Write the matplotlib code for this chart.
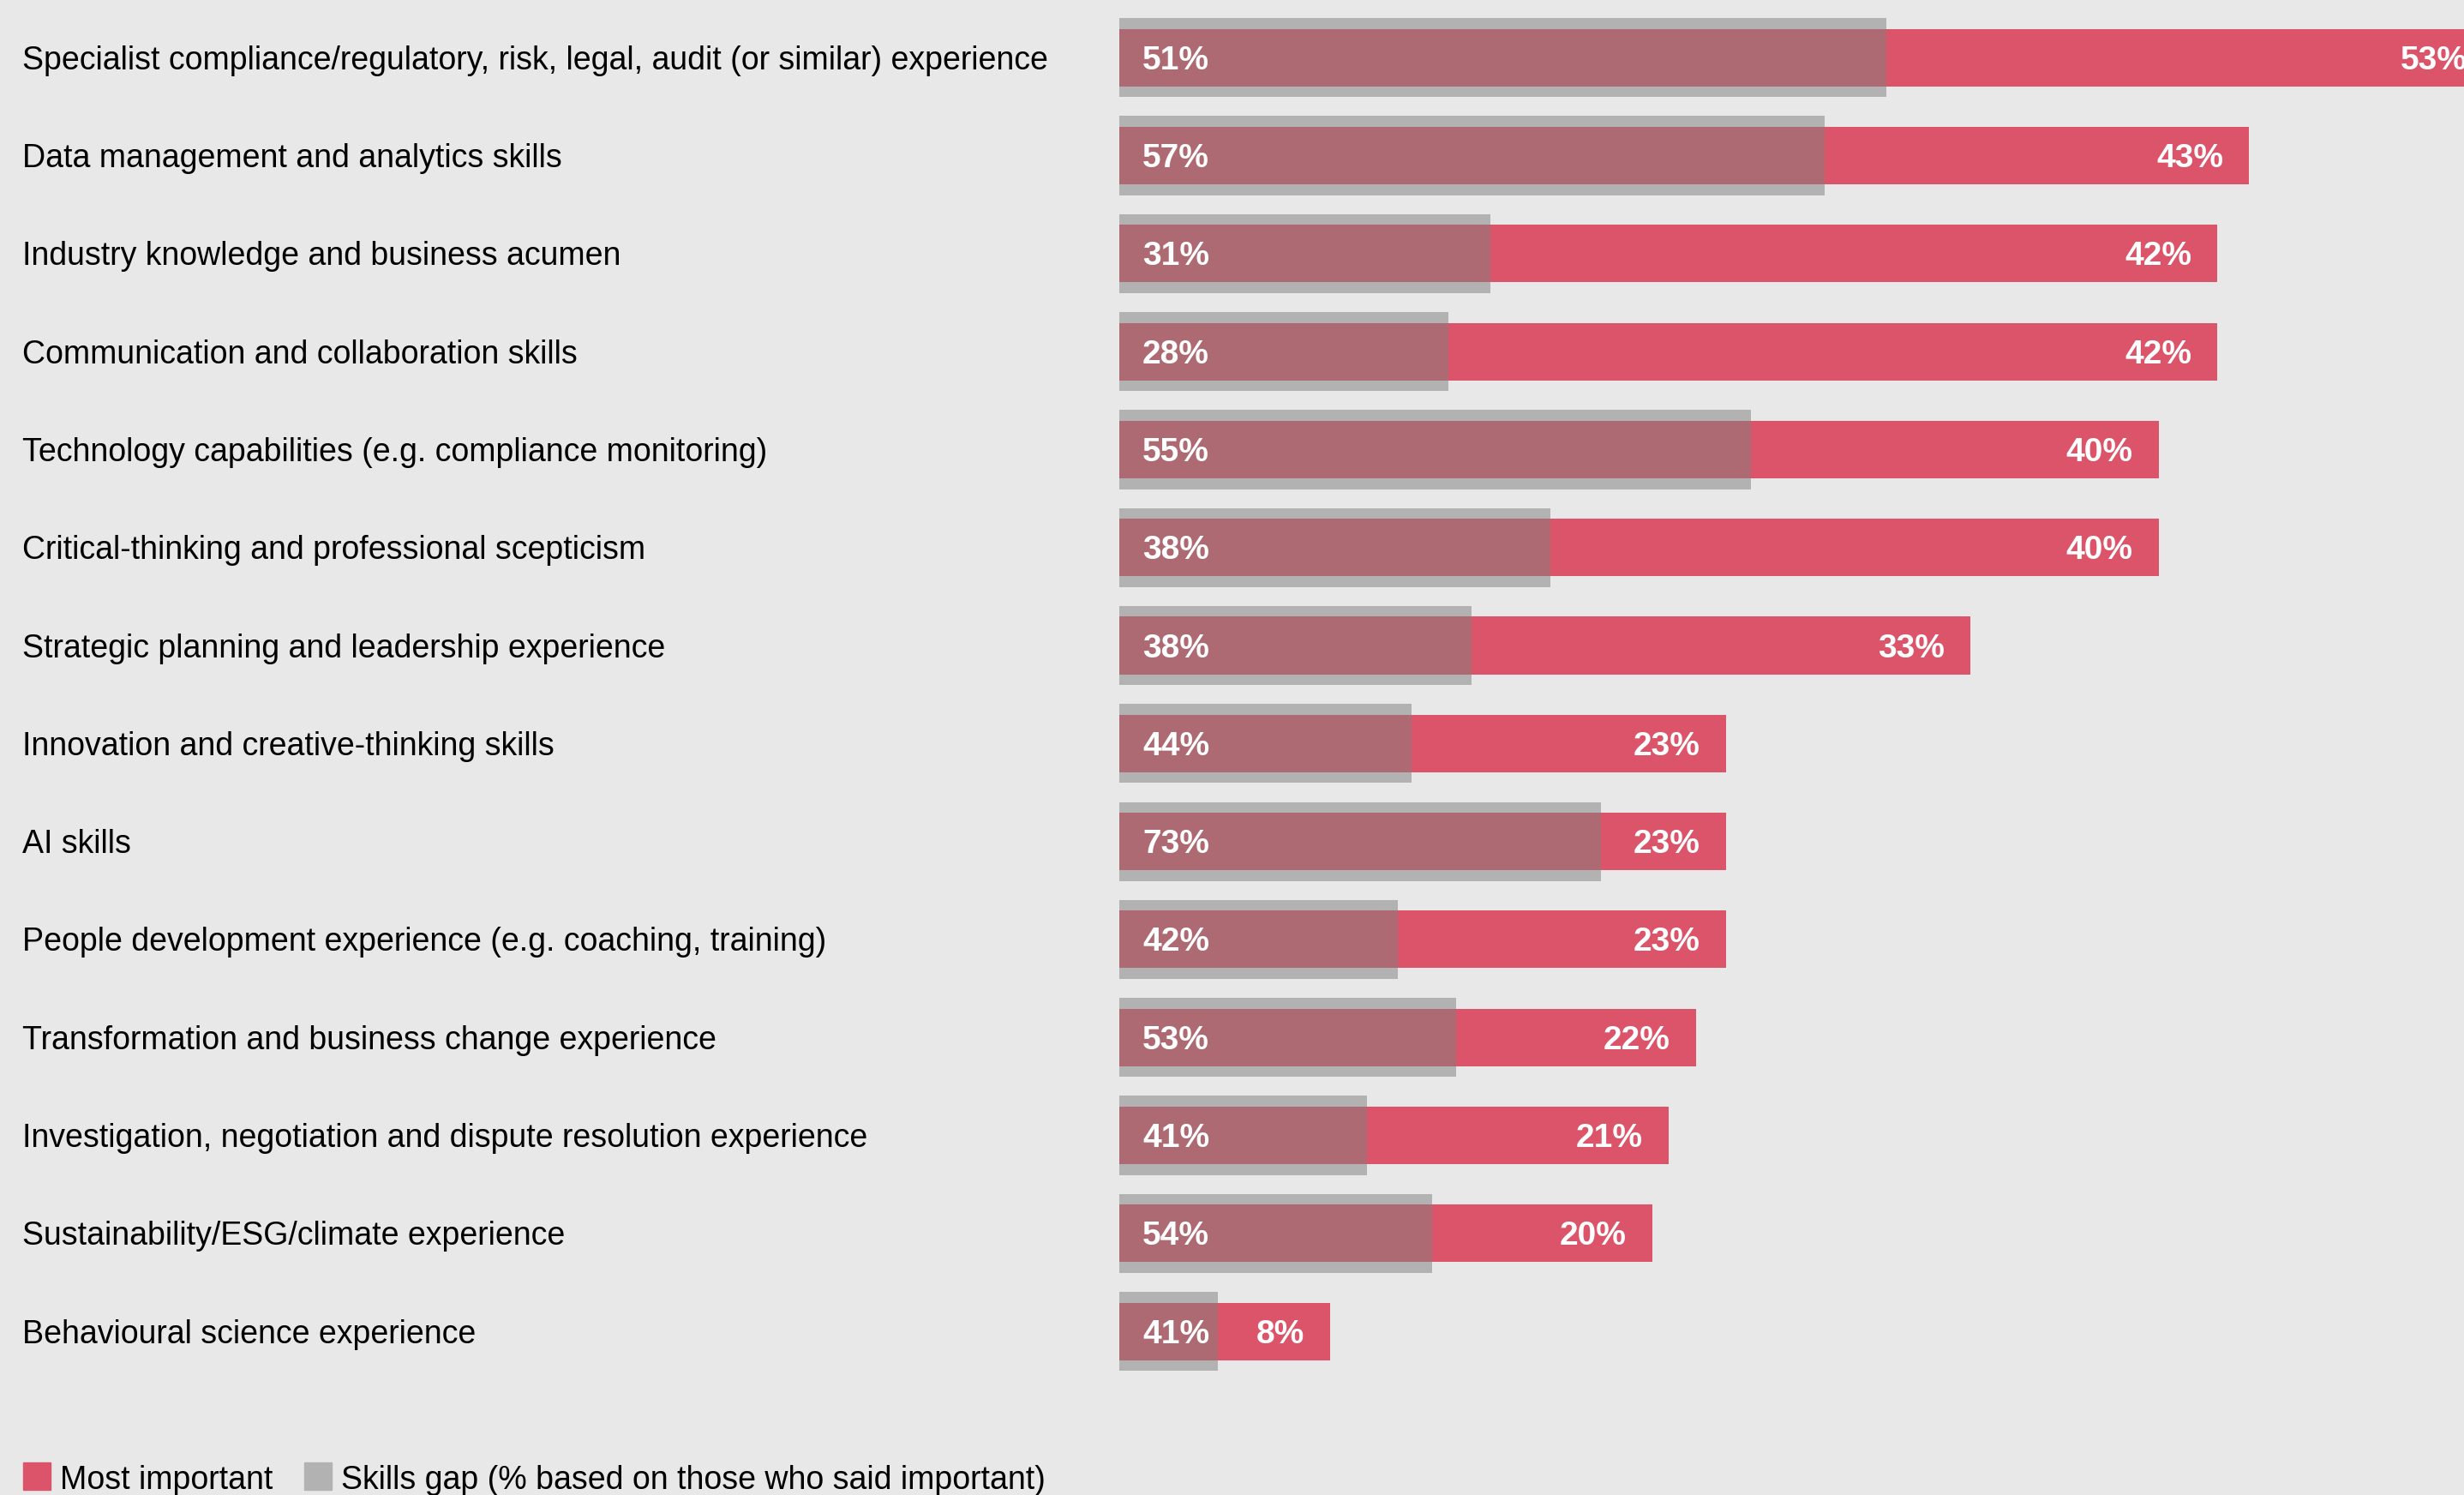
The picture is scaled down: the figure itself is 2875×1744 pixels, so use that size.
import matplotlib.pyplot as plt
from matplotlib.patches import Rectangle
from matplotlib.transforms import blended_transform_factory

plt.rcParams['font.family'] = ['Liberation Sans', 'DejaVu Sans']

categories = [
    "Specialist compliance/regulatory, risk, legal, audit (or similar) experience",
    "Data management and analytics skills",
    "Industry knowledge and business acumen",
    "Communication and collaboration skills",
    "Technology capabilities (e.g. compliance monitoring)",
    "Critical-thinking and professional scepticism",
    "Strategic planning and leadership experience",
    "Innovation and creative-thinking skills",
    "AI skills",
    "People development experience (e.g. coaching, training)",
    "Transformation and business change experience",
    "Investigation, negotiation and dispute resolution experience",
    "Sustainability/ESG/climate experience",
    "Behavioural science experience",
]
most_important = [53, 43, 42, 42, 40, 40, 33, 23, 23, 23, 22, 21, 20, 8]
skills_gap = [51, 57, 31, 28, 55, 38, 38, 44, 73, 42, 53, 41, 54, 41]
# bar lengths as drawn in the picture (unrounded), same units as the labels
most_bar = [52.2, 42.93, 41.73, 41.73, 39.5, 39.5, 32.35, 23.06, 23.06, 23.06, 21.92, 20.88, 20.26, 8.01]
gap_bar = [29.15, 26.8, 14.1, 12.5, 24.0, 16.4, 13.4, 11.1, 18.3, 10.6, 12.8, 9.4, 11.9, 3.76]

bg = '#E8E8E8'
red = '#DB5469'
grey = '#B2B2B2'
overlap = '#AD6A72'

fig = plt.figure(figsize=(28.75, 17.44), dpi=100, facecolor=bg)
ax = fig.add_axes([1306 / 2875, 0.0767, 1 - 1306 / 2875, 0.9175])
ax.set_facecolor(bg)
ax.set_xlim(0, (2875 - 1306) / 30.7)
ax.set_ylim(len(categories) - 0.5, -0.5)
ax.axis('off')

y = list(range(len(categories)))
ax.barh(y, gap_bar, height=0.806, color=grey, zorder=1)
ax.barh(y, most_bar, height=0.587, color=red, zorder=2)
ax.barh(y, gap_bar, height=0.587, color=overlap, zorder=3)

lab_tr = blended_transform_factory(fig.transFigure, ax.transData)
for i in y:
    ax.annotate(f"{most_important[i]}%", (most_bar[i], i), xytext=(-21.6, -2.5),
                textcoords='offset points', ha='right', va='center', color='white',
                fontsize=28, fontweight='bold', zorder=4, annotation_clip=False)
    ax.annotate(f"{skills_gap[i]}%", (0, i), xytext=(19.4, -2.5),
                textcoords='offset points', ha='left', va='center', color='white',
                fontsize=28, fontweight='bold', zorder=4)
    ax.annotate(categories[i], (26 / 2875, i), xycoords=lab_tr, xytext=(0, -2.5),
                textcoords='offset points', ha='left', va='center',
                fontsize=27, color='black', annotation_clip=False)

# legend
fig.patches.append(Rectangle((27 / 2875, 1 - 1738 / 1744), 32 / 2875, 32 / 1744,
                             transform=fig.transFigure, color=red))
fig.text(70 / 2875, 1 - 1737 / 1744, "Most important", fontsize=27, va='baseline')
fig.patches.append(Rectangle((355 / 2875, 1 - 1738 / 1744), 32 / 2875, 32 / 1744,
                             transform=fig.transFigure, color=grey))
fig.text(398 / 2875, 1 - 1737 / 1744, "Skills gap (% based on those who said important)",
         fontsize=27, va='baseline')

fig.savefig('out.png', dpi=100, facecolor=bg)
